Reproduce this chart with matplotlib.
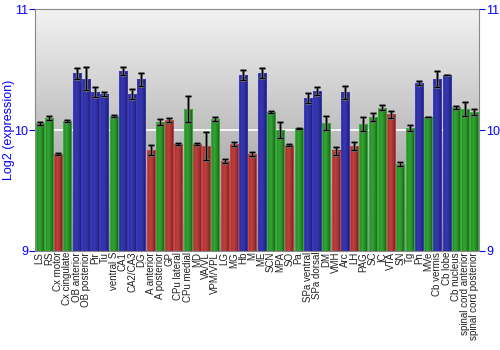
import numpy as np
import matplotlib.pyplot as plt
from matplotlib.colors import to_rgb

plt.rcParams['font.family'] = ['Liberation Sans', 'DejaVu Sans']

regions = ['LS', 'RS', 'Cx motor', 'Cx cingulate', 'OB anterior', 'OB posterior', 'Pir', 'Tu',
           'ventral S', 'CA1', 'CA2/CA3', 'DG', 'A anterior', 'A posterior', 'GP', 'CPu lateral',
           'CPu medial', 'MD', 'VA/VL', 'VPM/VPL', 'LG', 'MG', 'Hb', 'M', 'ME', 'SCN', 'MPA', 'SO',
           'Pa', 'SPa ventral', 'SPa dorsal', 'DM', 'VMH', 'Arc', 'LH', 'PAG', 'SC', 'IC', 'VTA',
           'SN', 'Tg', 'Pn', 'MVe', 'Cb vermis', 'Cb lobe', 'Cb nucleus', 'spinal cord anterior',
           'spinal cord posterior']
expr = [10.055, 10.10, 9.80, 10.077, 10.47, 10.425, 10.315, 10.30,
        10.116, 10.49, 10.30, 10.42, 9.837, 10.066, 10.083, 9.884,
        10.174, 9.884, 9.867, 10.091, 9.743, 9.884, 10.453, 9.80, 10.472, 10.149, 10.003, 9.876,
        10.014, 10.265, 10.323, 10.061, 9.83, 10.312, 9.867, 10.047, 10.105, 10.185, 10.13,
        9.718, 10.017, 10.39, 10.108, 10.423, 10.456, 10.188, 10.174,
        10.149]
err = [0.01, 0.02, 0.01, 0.01, 0.044, 0.097, 0.039, 0.015,
       0.01, 0.03, 0.04, 0.055, 0.04, 0.025, 0.02, 0.01,
       0.11, 0.01, 0.113, 0.02, 0.015, 0.015, 0.041, 0.015, 0.041, 0.008, 0.065, 0.005,
       0.005, 0.043, 0.03, 0.058, 0.033, 0.054, 0.036, 0.059, 0.033, 0.02, 0.03,
       0.02, 0.025, 0.018, 0.003, 0.069, 0.003, 0.014, 0.057,
       0.025]
# g = green, r = red, b = blue
groups = 'ggrgbbbbgbbbrgrrgrrgrrbrbggrgbbgrbrgggrggbgbbggg'

palette = {'g': '#2f9a2f', 'r': '#b53b3b', 'b': '#3333aa'}

fig = plt.figure(figsize=(5, 3.5), dpi=100)
ax = fig.add_axes([0.07, 0.284, 0.888, 0.689])

ymin, ymax = 9, 11
n = len(regions)

# vertical grey gradient behind the bars (light at the top)
bg = np.linspace(0.95, 0.55, 256).reshape(-1, 1)
ax.imshow(np.dstack([bg, bg, bg]), extent=(-0.5, n - 0.5, ymin, ymax), origin='upper',
          aspect='auto', zorder=0, interpolation='bilinear')
ax.axhline(10, color='white', lw=1.2, zorder=1)

# bars shaded from edge to edge
w = 0.88
shade = 1 - 0.35 * np.abs(np.linspace(-1, 1, 64) + 0.25) ** 1.5
for i, (v, g) in enumerate(zip(expr, groups)):
    base = np.array(to_rgb(palette[g]))
    img = np.clip(base[None, None, :] * shade[None, :, None] * 1.05, 0, 1)
    ax.imshow(img, extent=(i - w / 2, i + w / 2, ymin, v), aspect='auto', zorder=2,
              interpolation='bilinear')
    ax.bar(i, v - ymin, bottom=ymin, width=w, color='none',
           edgecolor=tuple(np.clip(base * 1.3, 0, 1)), lw=0.5, zorder=3)

x = np.arange(n)
ax.errorbar(x, expr, yerr=err, fmt='none', ecolor='#777777', elinewidth=2, capsize=2.5,
            capthick=2, zorder=4)
ax.errorbar(x, expr, yerr=err, fmt='none', ecolor='black', elinewidth=0.9, capsize=2,
            capthick=0.9, zorder=5)

ax.set_xlim(-0.5, n - 0.5)
ax.set_ylim(ymin, ymax)
ax.set_xticks(x)
ax.set_xticklabels(regions, rotation=90, fontsize=7, color='#222222')
ax.tick_params(axis='x', length=0, pad=1)
ax.set_yticks([9, 10, 11])
ax.tick_params(axis='y', colors='blue', labelsize=9, length=4, labelright=True, right=True,
               direction='out', pad=1)
for t in ax.get_yticklabels():
    t.set_color('blue')
ax.set_ylabel('Log2 (expression)', color='blue', fontsize=9)
ax.yaxis.set_label_coords(-0.045, 0.5)
for s in ax.spines.values():
    s.set_color('#888888')

fig.savefig('out.png', dpi=100)
